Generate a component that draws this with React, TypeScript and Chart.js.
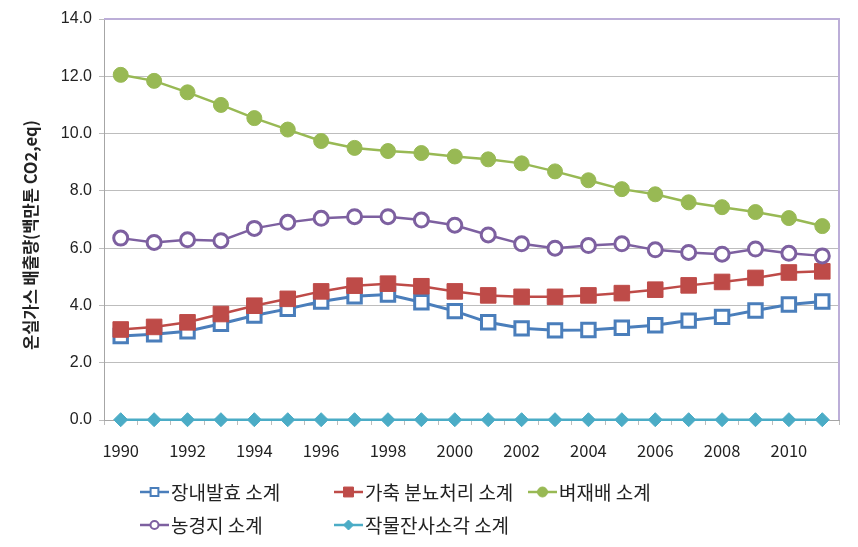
import React, { useEffect, useRef } from 'react';
import { Chart, registerables } from 'chart.js';
import { drawPoint } from 'chart.js/helpers';

Chart.register(...registerables);

const years = ['1990', '1991', '1992', '1993', '1994', '1995', '1996', '1997', '1998', '1999', '2000', '2001', '2002', '2003', '2004', '2005', '2006', '2007', '2008', '2009', '2010', '2011'];

const entericFermentation = [2.93, 2.99, 3.10, 3.36, 3.65, 3.88, 4.14, 4.32, 4.38, 4.11, 3.80, 3.41, 3.20, 3.13, 3.14, 3.22, 3.31, 3.47, 3.60, 3.82, 4.03, 4.14];
const manureManagement = [3.16, 3.25, 3.41, 3.70, 3.99, 4.23, 4.49, 4.69, 4.76, 4.67, 4.49, 4.35, 4.30, 4.30, 4.35, 4.43, 4.55, 4.70, 4.82, 4.96, 5.15, 5.19];
const riceCultivation = [12.05, 11.84, 11.44, 11.0, 10.54, 10.14, 9.74, 9.5, 9.39, 9.32, 9.2, 9.1, 8.96, 8.68, 8.37, 8.06, 7.88, 7.6, 7.43, 7.26, 7.05, 6.77];
const agriculturalSoils = [6.35, 6.2, 6.29, 6.26, 6.69, 6.9, 7.04, 7.1, 7.1, 6.98, 6.8, 6.46, 6.15, 6.0, 6.09, 6.15, 5.94, 5.85, 5.79, 5.97, 5.82, 5.73];
const residueBurning = [0.01, 0.01, 0.01, 0.01, 0.01, 0.01, 0.01, 0.01, 0.01, 0.01, 0.01, 0.01, 0.01, 0.01, 0.01, 0.01, 0.01, 0.01, 0.01, 0.01, 0.01, 0.01];

const seriesLabels = ['장내발효 소계', '가축 분뇨처리 소계', '벼재배 소계', '농경지 소계', '작물잔사소각 소계'];
const yAxisTitle = '온실가스 배출량(백만톤 CO2,eq)';

const KR_FONT = '"Noto Sans CJK KR", "Noto Sans", sans-serif';

// legend grid: column x and row y for each series
const legendCols = [140, 334, 528];
const legendRows = [492, 525];
const legendSlots = [[0, 0], [1, 0], [2, 0], [0, 1], [1, 1]];
const legendMarkers = [
  { radius: 5.5, borderWidth: 2 },
  { radius: 7, borderWidth: 1 },
  { radius: 5, borderWidth: 1 },
  { radius: 4, borderWidth: 2 },
  { radius: 5, borderWidth: 1 },
];

const legendPlugin = {
  id: 'gridLegend',
  afterDraw(chart: any) {
    const ctx = chart.ctx;
    ctx.save();
    chart.data.datasets.forEach((ds: any, i: number) => {
      const [c, r] = legendSlots[i];
      const x = legendCols[c];
      const y = legendRows[r];
      ctx.strokeStyle = ds.borderColor;
      ctx.lineWidth = 2.5;
      ctx.beginPath();
      ctx.moveTo(x, y);
      ctx.lineTo(x + 29, y);
      ctx.stroke();
      ctx.fillStyle = ds.pointBackgroundColor;
      ctx.strokeStyle = ds.pointBorderColor;
      ctx.lineWidth = legendMarkers[i].borderWidth;
      drawPoint(ctx, { pointStyle: ds.pointStyle, rotation: 0, radius: legendMarkers[i].radius, borderWidth: legendMarkers[i].borderWidth }, x + 14.5, y);
      ctx.fillStyle = '#222';
      ctx.font = '19px ' + KR_FONT;
      ctx.textBaseline = 'middle';
      ctx.textAlign = 'left';
      ctx.fillText(ds.label, x + 31, y + 1);
    });
    ctx.restore();
  },
};

const yTitlePlugin = {
  id: 'yTitle',
  afterDraw(chart: any) {
    const ctx = chart.ctx;
    ctx.save();
    ctx.translate(31, 235);
    ctx.rotate(-Math.PI / 2);
    ctx.fillStyle = '#222';
    ctx.font = 'bold 16.5px ' + KR_FONT;
    ctx.textAlign = 'center';
    ctx.textBaseline = 'middle';
    ctx.fillText(yAxisTitle, 0, 0);
    ctx.restore();
  },
};

const frameBorderPlugin = {
  id: 'frameBorder',
  beforeDatasetsDraw(chart: any) {
    const { ctx, chartArea } = chart;
    ctx.save();
    ctx.strokeStyle = '#bcaed8';
    ctx.lineWidth = 2;
    ctx.beginPath();
    ctx.moveTo(chartArea.left, chartArea.top);
    ctx.lineTo(chartArea.right, chartArea.top);
    ctx.lineTo(chartArea.right, chartArea.bottom);
    ctx.stroke();
    ctx.restore();
  },
};

export default function App() {
  const canvasRef = useRef<HTMLCanvasElement | null>(null);

  useEffect(() => {
    document.body.style.margin = '0';
    const canvas = canvasRef.current;
    if (!canvas) return;
    const chart = new Chart(canvas, {
      type: 'line',
      data: {
        labels: years,
        datasets: [
          {
            label: seriesLabels[0],
            data: entericFermentation,
            order: 4,
            borderColor: '#4a7ebb',
            borderWidth: 3,
            pointStyle: 'rect',
            pointRadius: 9.5,
            pointBorderWidth: 3,
            pointBackgroundColor: '#ffffff',
            pointBorderColor: '#4a7ebb',
            clip: false,
          },
          {
            label: seriesLabels[1],
            data: manureManagement,
            order: 3,
            borderColor: '#be4b48',
            borderWidth: 2.5,
            pointStyle: 'rect',
            pointRadius: 11,
            pointBorderWidth: 1,
            pointBackgroundColor: '#be4b48',
            pointBorderColor: '#be4b48',
            clip: false,
          },
          {
            label: seriesLabels[2],
            data: riceCultivation,
            order: 2,
            borderColor: '#98b954',
            borderWidth: 2.5,
            pointStyle: 'circle',
            pointRadius: 7.5,
            pointBorderWidth: 1,
            pointBackgroundColor: '#98b954',
            pointBorderColor: '#98b954',
            clip: false,
          },
          {
            label: seriesLabels[3],
            data: agriculturalSoils,
            order: 1,
            borderColor: '#7d60a0',
            borderWidth: 2.5,
            pointStyle: 'circle',
            pointRadius: 7,
            pointBorderWidth: 3,
            pointBackgroundColor: '#ffffff',
            pointBorderColor: '#7d60a0',
            clip: false,
          },
          {
            label: seriesLabels[4],
            data: residueBurning,
            order: 0,
            borderColor: '#4bacc6',
            borderWidth: 2.5,
            pointStyle: 'rectRot',
            pointRadius: 7,
            pointBorderWidth: 1,
            pointBackgroundColor: '#4bacc6',
            pointBorderColor: '#4bacc6',
            clip: false,
          },
        ],
      },
      options: {
        animation: false,
        responsive: false,
        maintainAspectRatio: false,
        layout: { padding: { left: 0, top: 19, right: 19, bottom: 86 } },
        plugins: {
          legend: { display: false },
          tooltip: { enabled: false },
        },
        scales: {
          x: {
            type: 'category',
            offset: true,
            grid: {
              offset: true,
              drawOnChartArea: false,
              drawTicks: true,
              tickLength: 5,
              color: '#bdbdbd',
            },
            border: { color: '#a6a6a6', width: 1 },
            ticks: {
              autoSkip: false,
              maxRotation: 0,
              minRotation: 0,
              padding: 16,
              color: '#222',
              font: { family: KR_FONT, size: 16.5 },
              callback: (_v: any, i: number) => (i % 2 === 0 ? years[i] : ''),
            },
            afterFit: (scale: any) => {
              scale.height = 41;
            },
          },
          y: {
            min: 0,
            max: 14,
            ticks: {
              stepSize: 2,
              padding: 7,
              color: '#222',
              font: { family: '"Liberation Sans", Arial, sans-serif', size: 16 },
              callback: (v: any) => Number(v).toFixed(1),
            },
            grid: {
              color: '#bdbdbd',
              drawTicks: true,
              tickLength: 5,
            },
            border: { color: '#a6a6a6', width: 1 },
            title: { display: false },
            afterFit: (scale: any) => {
              scale.width = 104;
            },
          },
        },
      },
      plugins: [frameBorderPlugin, legendPlugin, yTitlePlugin],
    });
    return () => chart.destroy();
  }, []);

  return (
    <div style={{ position: 'relative', width: 858, height: 547, background: '#fff' }}>
      <canvas ref={canvasRef} width={858} height={547} style={{ display: 'block', width: 858, height: 547 }} />
    </div>
  );
}
